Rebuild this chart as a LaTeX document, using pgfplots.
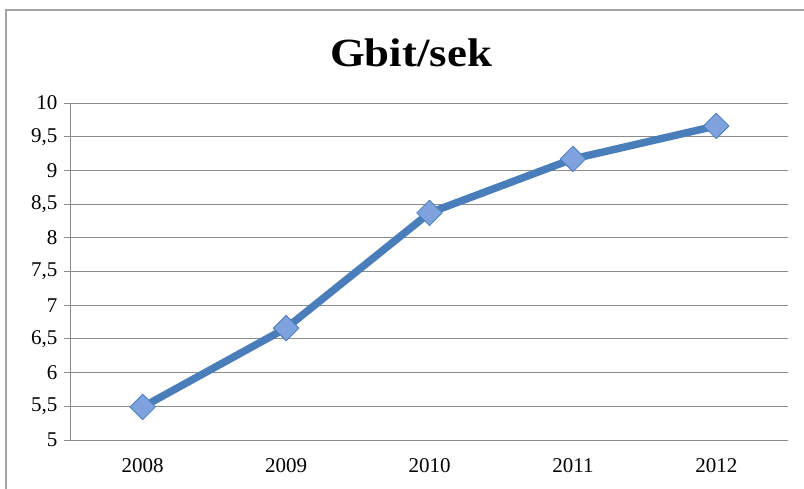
\documentclass[border=0pt]{standalone}
\usepackage{pgfplots}
\pgfplotsset{compat=1.18}
\usepackage{graphicx}
\usepackage{fontspec}
\setmainfont{Liberation Serif}
\definecolor{ln}{HTML}{4A7EBB}
\definecolor{mk}{HTML}{7DA2DD}
\definecolor{gr}{HTML}{8C8C8C}
\begin{document}
\begin{tikzpicture}[x=1pt,y=1pt]
\path[use as bounding box] (-71,-48) rectangle (733,440);
\draw[gr!80,line width=1.2pt] (-65,-60) -- (-65,430) -- (745,430);
\begin{axis}[
  at={(0,0)}, anchor=south west,
  scale only axis, width=717pt, height=337pt,
  xmin=-0.5, xmax=4.5, ymin=5, ymax=10,
  axis x line*=bottom, axis y line*=left,
  axis line style={gr, line width=1pt, -},
  xtick={0,1,2,3,4}, xticklabels={2008,2009,2010,2011,2012},
  extra x ticks={-0.5,0.5,1.5,2.5,3.5,4.5}, extra x tick labels={},
  extra x tick style={major tick length=7pt, tick style={gr, line width=1pt}, grid=none},
  ytick={5,5.5,...,10},
  tick align=outside, major tick length=7pt,
  x tick style={draw=none},
  y tick style={gr, line width=1pt},
  ymajorgrids, grid style={gr, line width=1pt},
  /pgf/number format/use comma,
  /pgf/number format/assume math mode=true,
  tick label style={font=\fontsize{21}{21}\selectfont},
  yticklabel style={xshift=-3pt},
  xticklabel style={yshift=-8pt},
  clip=false,
]
\addplot[ln, line width=7.5pt, line join=round, mark=square*, mark size=9pt,
  mark options={rotate=45, fill=mk, draw=ln, line width=0.8pt}]
  coordinates {(0,5.49) (1,6.66) (2,8.37) (3,9.17) (4,9.66)};
\end{axis}
\node[font=\fontsize{40}{40}\selectfont\bfseries, anchor=base] at (340,373) {\scalebox{1.12}[1]{Gbit/sek}};
\end{tikzpicture}
\end{document}
